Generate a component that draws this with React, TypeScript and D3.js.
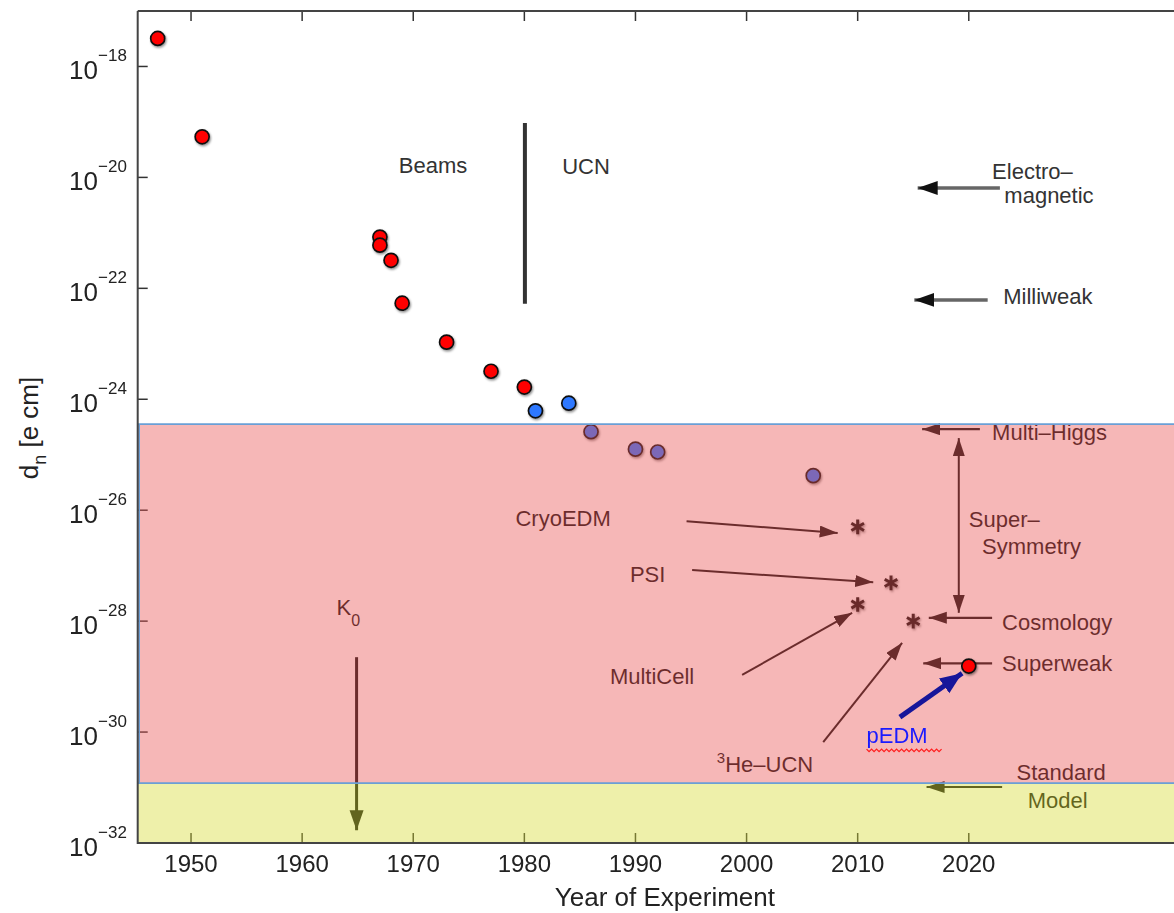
import React from "react"
import * as d3 from "d3"

// ---- values ----
const beamYears = [1947, 1951, 1967, 1967, 1968, 1969, 1973, 1977, 1980]
const beamLimits = [3.2e-18, 5.4e-20, 8.4e-22, 6.0e-22, 3.2e-22, 5.4e-23, 1.07e-23, 3.2e-24, 1.66e-24]

const ucnYears = [1981, 1984, 1986, 1990, 1992, 2006]
const ucnLimits = [6.2e-25, 8.5e-25, 2.6e-25, 1.26e-25, 1.12e-25, 4.2e-26]

const futureYears = [2010, 2013, 2010, 2015]
const futureLimits = [5.0e-27, 4.9e-28, 2.0e-28, 1.0e-28]

const pedmYears = [2020]
const pedmLimits = [1.55e-29]

const yearTicks = [1950, 1960, 1970, 1980, 1990, 2000, 2010, 2020]
const decadeTicks = [-32, -30, -28, -26, -24, -22, -20, -18]

// prediction bands
const susyTop = 3.57e-25
const smTop = 1.2e-31

// annotations, in data units: [year, log10(d)]
const proposals = [
    { name: "CryoEDM", at: [1979.2, -26.29], from: [1994.6, -26.2], to: [2008.2, -26.41] },
    { name: "PSI", at: [1989.5, -27.3], from: [1995.1, -27.08], to: [2011.4, -27.3] },
    { name: "MultiCell", at: [1987.7, -29.13], from: [1999.6, -28.97], to: [2009.5, -27.85] },
]

const theories = [
    { lines: ["Electro–", "magnetic"], at: [[2022.1, -20.03], [2023.2, -20.47]], from: [2022.8, -20.19], to: [2015.4, -20.19], grey: true },
    { lines: ["Milliweak"], at: [[2023.1, -22.28]], from: [2021.7, -22.21], to: [2015.1, -22.21], grey: true },
    { lines: ["Multi–Higgs"], at: [[2022.1, -24.73]], from: [2021.0, -24.54], to: [2015.8, -24.54], grey: false },
    { lines: ["Cosmology"], at: [[2023.0, -28.16]], from: [2022.1, -27.94], to: [2016.4, -27.94], grey: false },
    { lines: ["Superweak"], at: [[2023.0, -28.9]], from: [2022.1, -28.76], to: [2015.9, -28.76], grey: false },
    { lines: ["Standard", "Model"], at: [[2024.3, -30.86], [2025.3, -31.37]], from: [2023.0, -30.99], to: [2016.2, -30.99], grey: false },
]

const W = 1174
const H = 913
const FONT = "'Liberation Sans', Arial, Helvetica, sans-serif"

const x = d3.scaleLinear().domain([1945.2, 2040]).range([137.7, 1191])
const y = d3.scaleLog().domain([1e-32, 1e-17]).range([843, 11])
const px = (p: number[]) => [x(p[0]), y(Math.pow(10, p[1]))]

function Arrow({ from, to, color = "#111", width = 2, head = "url(#head)" }: any) {
    const a = px(from)
    const b = px(to)
    return <line x1={a[0]} y1={a[1]} x2={b[0]} y2={b[1]} stroke={color} strokeWidth={width} markerEnd={head} />
}

export default function App() {
    const left = x.range()[0]
    const right = W + 20
    const top = y.range()[1]
    const bottom = y.range()[0]

    const star = d3.symbol().type(d3.symbolAsterisk).size(150)()

    // red squiggle under "pEDM"
    const pedmText = px([2010.8, -30.2])
    const squiggle: [number, number][] = []
    for (let i = 0; i <= 30; i++) {
        squiggle.push([pedmText[0] + i * 2.5, pedmText[1] + 6 + (i % 2 === 0 ? 0 : 2.5)])
    }

    const susyA = px([2019.1, -24.7])
    const susyB = px([2019.1, -27.85])
    const k0 = px([1963.1, -27.89])
    const he = px([2006.0, -30.72])

    return (
        <svg
            width={W}
            height={H}
            style={{ position: "absolute", left: 0, top: 0, background: "#fff" }}
            fontFamily={FONT}
        >
            <defs>
                <marker id="head" markerUnits="userSpaceOnUse" markerWidth="20" markerHeight="14" refX="18" refY="6" orient="auto-start-reverse">
                    <path d="M0,0 L18,6 L0,12 z" fill="#111" />
                </marker>
                <marker id="headBig" markerUnits="userSpaceOnUse" markerWidth="22" markerHeight="16" refX="20" refY="7" orient="auto">
                    <path d="M0,0 L20,7 L0,14 z" fill="#111" />
                </marker>
                <marker id="headBlue" markerUnits="userSpaceOnUse" markerWidth="24" markerHeight="20" refX="22" refY="9" orient="auto">
                    <path d="M0,0 L22,9 L0,18 z" fill="#16169a" />
                </marker>
                <filter id="shadow" x="-50%" y="-50%" width="200%" height="200%">
                    <feDropShadow dx="1" dy="1.5" stdDeviation="1.3" floodColor="#000" floodOpacity="0.45" />
                </filter>
            </defs>

            {/* ticks */}
            <g stroke="#333" strokeWidth={1.5}>
                {yearTicks.map((t) => (
                    <g key={t}>
                        <line x1={x(t)} x2={x(t)} y1={bottom} y2={bottom - 10} />
                        <line x1={x(t)} x2={x(t)} y1={top} y2={top + 10} />
                    </g>
                ))}
                {decadeTicks.map((e) => (
                    <line key={e} x1={left} x2={left + 10} y1={y(Math.pow(10, e))} y2={y(Math.pow(10, e))} />
                ))}
            </g>

            {/* Beams | UCN divider */}
            <line x1={x(1980.05)} x2={x(1980.05)} y1={y(Math.pow(10, -19.02))} y2={y(Math.pow(10, -22.28))} stroke="#333" strokeWidth={4} />
            <text x={x(1968.7)} y={y(Math.pow(10, -19.92))} fontSize={22} fill="#333">Beams</text>
            <text x={x(1983.4)} y={y(Math.pow(10, -19.93))} fontSize={22} fill="#333">UCN</text>

            {/* theory predictions */}
            {theories.map((t) => (
                <g key={t.lines[0]}>
                    <Arrow
                        from={t.from}
                        to={t.to}
                        color={t.grey ? "#666" : "#111"}
                        width={t.grey ? 3.5 : 2.2}
                        head={t.grey ? "url(#headBig)" : "url(#head)"}
                    />
                    {t.lines.map((l, i) => {
                        const p = px(t.at[i])
                        return (
                            <text key={l} x={p[0]} y={p[1]} fontSize={22} fill={t.grey ? "#333" : "#111"}>
                                {l}
                            </text>
                        )
                    })}
                </g>
            ))}
            <line x1={susyA[0]} x2={susyB[0]} y1={susyA[1]} y2={susyB[1]} stroke="#111" strokeWidth={2} markerEnd="url(#head)" markerStart="url(#head)" />
            <text x={x(2020.0)} y={y(Math.pow(10, -26.3))} fontSize={22} fill="#111">Super–</text>
            <text x={x(2021.2)} y={y(Math.pow(10, -26.79))} fontSize={22} fill="#111">Symmetry</text>

            {/* proposed experiments */}
            {proposals.map((p) => {
                const a = px(p.at)
                return (
                    <g key={p.name}>
                        <text x={a[0]} y={a[1]} fontSize={22} fill="#111">{p.name}</text>
                        <Arrow from={p.from} to={p.to} />
                    </g>
                )
            })}
            <text x={he[0]} y={he[1]} fontSize={22} fill="#111" textAnchor="end">
                <tspan fontSize={15} dy={-9}>3</tspan>
                <tspan dy={9}>He–UCN</tspan>
            </text>
            <Arrow from={[2006.9, -30.18]} to={[2014.0, -28.39]} />

            {/* K0 */}
            <text x={k0[0]} y={k0[1]} fontSize={22} fill="#111">
                K<tspan fontSize={16} dy={11}>0</tspan>
            </text>
            <Arrow from={[1964.9, -28.65]} to={[1964.9, -31.77]} width={3} head="url(#headBig)" />

            {/* measurements */}
            <g filter="url(#shadow)">
                {futureYears.map((yr, i) => (
                    <path
                        key={"s" + i}
                        d={star as string}
                        transform={`translate(${x(yr)},${y(futureLimits[i])})`}
                        fill="none"
                        stroke="#111"
                        strokeWidth={3}
                    />
                ))}
                {beamYears.map((yr, i) => (
                    <circle key={"b" + i} cx={x(yr)} cy={y(beamLimits[i])} r={7} fill="#ff0000" stroke="#111" strokeWidth={1.7} />
                ))}
                {ucnYears.map((yr, i) => (
                    <circle key={"u" + i} cx={x(yr)} cy={y(ucnLimits[i])} r={7} fill="#2d78ff" stroke="#111" strokeWidth={1.7} />
                ))}
            </g>

            {/* prediction bands, translucent so what lies under them takes their tint */}
            <rect
                x={left}
                y={y(susyTop)}
                width={right - left}
                height={y(smTop) - y(susyTop)}
                fill="rgb(233,83,83)"
                fillOpacity={0.42}
            />
            <rect
                x={left}
                y={y(smTop)}
                width={right - left}
                height={bottom - y(smTop)}
                fill="rgb(213,218,49)"
                fillOpacity={0.41}
            />
            <g stroke="#6a9fd6" strokeWidth={1.6} fill="none">
                <line x1={left} x2={right} y1={y(susyTop)} y2={y(susyTop)} />
                <line x1={left} x2={right} y1={y(smTop)} y2={y(smTop)} />
                <line x1={left + 1.5} x2={left + 1.5} y1={y(susyTop)} y2={y(smTop)} />
            </g>

            {/* frame */}
            <g stroke="#444" strokeWidth={2} fill="none">
                <line x1={left} x2={right} y1={top} y2={top} />
                <line x1={left} x2={right} y1={bottom} y2={bottom} />
                <line x1={left} x2={left} y1={top} y2={bottom + 1} />
            </g>

            {/* pEDM */}
            <Arrow from={[2013.8, -29.73]} to={[2019.4, -28.94]} color="#16169a" width={5} head="url(#headBlue)" />
            <text x={pedmText[0]} y={pedmText[1]} fontSize={22} fill="#1a1aff">pEDM</text>
            <path d={d3.line()(squiggle) as string} fill="none" stroke="#ff2020" strokeWidth={1.3} />
            <g filter="url(#shadow)">
                {pedmYears.map((yr, i) => (
                    <circle key={"p" + i} cx={x(yr)} cy={y(pedmLimits[i])} r={7} fill="#ff0000" stroke="#111" strokeWidth={1.7} />
                ))}
            </g>

            {/* tick labels */}
            <g fill="#222">
                {yearTicks.map((t) => (
                    <text key={t} x={x(t)} y={872} fontSize={24} textAnchor="middle">{t}</text>
                ))}
                {decadeTicks.map((e) => {
                    const ty = y(Math.pow(10, e))
                    return (
                        <g key={e}>
                            <text x={98} y={ty + 12.5} fontSize={26} textAnchor="end">10</text>
                            <text x={98} y={ty - 5} fontSize={17}>{"−" + Math.abs(e)}</text>
                        </g>
                    )
                })}
            </g>

            {/* axis titles */}
            <text x={(x(1980) + x(1990)) / 2 + 85} y={906} fontSize={26} fill="#222" textAnchor="middle">
                Year of Experiment
            </text>
            <text transform="translate(38,428) rotate(-90)" fontSize={26} fill="#222" textAnchor="middle">
                d<tspan fontSize={18} dy={8}>n</tspan>
                <tspan dy={-8}> [e cm]</tspan>
            </text>
        </svg>
    )
}
